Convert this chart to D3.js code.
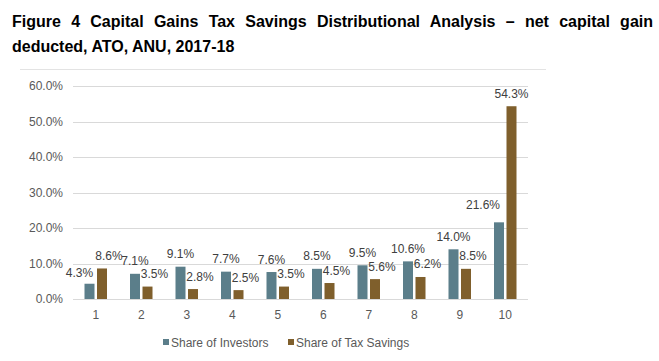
<!DOCTYPE html>
<meta charset="utf-8">
<style>
  body { margin: 0; background: #fff; }
  svg { font-family: "Liberation Sans", Arial, sans-serif; }
  .grid line { stroke: #d9d9d9; stroke-width: 1; }
  .tick-label { fill: #595959; font-size: 12px; }
  .bar-label { fill: #404040; font-size: 12px; }
  .title { font-weight: bold; font-size: 16px; fill: #000; }
</style>
<body>
<script src="https://cdn.jsdelivr.net/npm/d3@7"></script>
<script>
// deciles
var deciles = ["1", "2", "3", "4", "5", "6", "7", "8", "9", "10"];
// share of investors (%)
var investors = [4.3, 7.1, 9.1, 7.7, 7.6, 8.5, 9.5, 10.6, 14.0, 21.6];
// share of tax savings (%)
var taxSavings = [8.6, 3.5, 2.8, 2.5, 3.5, 4.5, 5.6, 6.2, 8.5, 54.3];
var yTicks = [0, 10, 20, 30, 40, 50, 60];
var seriesNames = ["Share of Investors", "Share of Tax Savings"];
var titleLines = ["Figure 4 Capital Gains Tax Savings Distributional Analysis \u2013 net capital gain",
                  "deducted, ATO, ANU, 2017-18"];

var width = 659, height = 361;
var colors = ["#5b7e8a", "#7f5f2c"];

var svg = d3.select("body").append("svg")
    .attr("width", width)
    .attr("height", height);

// title, first line justified across the page
var t1 = svg.append("text").attr("class", "title")
    .attr("x", 12).attr("y", 27)
    .text(titleLines[0]);
var natural = t1.node().getComputedTextLength();
var spaces = titleLines[0].split(" ").length - 1;
t1.attr("word-spacing", Math.max(0, ((653 - 12) - natural) / spaces));
if (natural > 641) t1.attr("textLength", 641).attr("lengthAdjust", "spacingAndGlyphs");
svg.append("text").attr("class", "title")
    .attr("x", 12).attr("y", 51.5)
    .text(titleLines[1]);

// chart frame top edge
svg.append("line")
    .attr("x1", 20).attr("x2", 546)
    .attr("y1", 69.5).attr("y2", 69.5)
    .attr("stroke", "#e3e3e3");

var margin = {left: 73, right: 131, top: 86, bottom: 62};
var x = d3.scaleBand()
    .domain(deciles)
    .range([margin.left, width - margin.right]);
var y = d3.scaleLinear()
    .domain([0, 60])
    .range([height - margin.bottom, margin.top]);

// gridlines
svg.append("g").attr("class", "grid")
  .selectAll("line")
  .data(yTicks)
  .enter().append("line")
    .attr("x1", margin.left).attr("x2", width - margin.right)
    .attr("y1", function(d) { return Math.round(y(d)) + 0.5; })
    .attr("y2", function(d) { return Math.round(y(d)) + 0.5; });

// y tick labels
svg.append("g")
  .selectAll("text")
  .data(yTicks)
  .enter().append("text")
    .attr("class", "tick-label")
    .attr("x", 63)
    .attr("y", function(d) { return y(d) + 4; })
    .attr("text-anchor", "end")
    .text(function(d) { return d3.format(".1f")(d) + "%"; });

// x tick labels
svg.append("g")
  .selectAll("text")
  .data(deciles)
  .enter().append("text")
    .attr("class", "tick-label")
    .attr("x", function(d) { return x(d) + x.bandwidth() / 2; })
    .attr("y", 319)
    .attr("text-anchor", "middle")
    .text(function(d) { return d; });

var barW = 10, gap = 2.5;
var series = [investors, taxSavings];
// a few labels were nudged by hand in the original
var labelNudge = {"0-0": [-10, 2], "0-9": [-16, -5]};

series.forEach(function(vals, s) {
  var off = s === 0 ? -(barW + gap / 2) : gap / 2;
  var g = svg.append("g");
  g.selectAll("rect")
    .data(vals)
    .enter().append("rect")
      .attr("x", function(d, i) { return x(deciles[i]) + x.bandwidth() / 2 + off; })
      .attr("width", barW)
      .attr("y", function(d) { return y(d); })
      .attr("height", function(d) { return y(0) - y(d); })
      .attr("fill", colors[s]);

  g.selectAll("text")
    .data(vals)
    .enter().append("text")
      .attr("class", "bar-label")
      .attr("text-anchor", "middle")
      .attr("x", function(d, i) {
        var n = labelNudge[s + "-" + i] || [0, 0];
        var shift = (s === 1 && i < 9) ? 7 : 0;
        return x(deciles[i]) + x.bandwidth() / 2 + off + barW / 2 + shift + n[0];
      })
      .attr("y", function(d, i) {
        var n = labelNudge[s + "-" + i] || [0, 0];
        return y(d) - 8.5 + n[1];
      })
      .text(function(d) { return d.toFixed(1) + "%"; });
});

// legend
var legend = svg.append("g");
var legendX = [163, 288];
seriesNames.forEach(function(name, s) {
  legend.append("rect")
    .attr("x", legendX[s]).attr("y", 339)
    .attr("width", 6).attr("height", 6)
    .attr("fill", colors[s]);
  legend.append("text")
    .attr("class", "tick-label")
    .attr("x", legendX[s] + 8).attr("y", 347)
    .text(name);
});
</script>
</body>
